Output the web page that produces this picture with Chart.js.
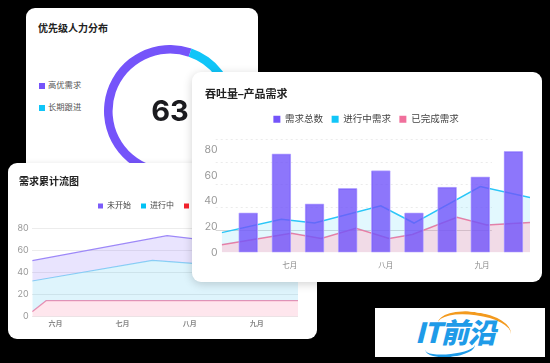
<!DOCTYPE html>
<html>
<head>
<meta charset="utf-8">
<script src="https://cdn.jsdelivr.net/npm/chart.js@4.4.1/dist/chart.umd.min.js"></script>
<style>
  html, body { margin: 0; padding: 0; }
  body {
    width: 550px; height: 363px; overflow: hidden; position: relative;
    background: #000;
    font-family: Inter, "Noto Sans CJK SC", sans-serif;
  }
  .card { position: absolute; background: #fff; border-radius: 9px; overflow: hidden; }
  .card canvas { position: absolute; }
  .title { position: absolute; font-weight: 600; color: #222; white-space: nowrap; }
  #card1 { left: 26px; top: 8px; width: 232px; height: 200px; }
  #card2 { left: 8px; top: 163px; width: 309px; height: 176px; box-shadow: 0 1px 6px rgba(0,0,0,.12); }
  #card3 { left: 192px; top: 72px; width: 350px; height: 210px; box-shadow: 0 2px 10px rgba(0,0,0,.18); }
  .leg { position: absolute; left: 13px; font-size: 8.3px; color: #555; line-height: 10px; white-space: nowrap; }
  .leg i { display: inline-block; width: 6px; height: 6px; margin-right: 3px; vertical-align: -0.5px; }
  #big { position: absolute; left: 104px; width: 80px; top: 86px; text-align: center;
         font: 700 29px/34px Inter, sans-serif; color: #1b1b1f; }
  #logo { position: absolute; left: 375px; top: 308px; width: 170px; height: 49px; background: #fff; overflow: hidden; }
  #logo .txt { position: absolute; left: 40px; top: 7px; font: italic 900 28px/32px "Noto Sans CJK SC", sans-serif;
               color: #1f9be8; letter-spacing: -1px; }
  #logo .arc1 { position: absolute; left: 62px; top: 4px; width: 74px; height: 30px; border-radius: 50%;
                border-top: 3px solid #f39a1e; transform: rotate(8deg); }
  #logo .arc2 { position: absolute; left: 50px; top: 30px; width: 50px; height: 16px; border-radius: 50%;
                border-bottom: 3px solid #1f9be8; transform: rotate(-6deg); }
</style>
</head>
<body>

<div class="card" id="card1">
  <div class="title" style="left:12px; top:14px; font-size:10px; line-height:12px;">优先级人力分布</div>
  <div id="legend1"></div>
  <canvas id="ringChart" width="132" height="132" style="left:78px; top:37px; width:132px; height:132px;"></canvas>
  <div id="big"></div>
</div>

<div class="card" id="card2">
  <div class="title" style="left:11px; top:12px; font-size:10px; line-height:12px;">需求累计流图</div>
  <canvas id="flowChart" width="309" height="144" style="left:0; top:29px; width:309px; height:144px;"></canvas>
</div>

<div class="card" id="card3">
  <div class="title" style="left:13px; top:15px; font-size:11px; line-height:14px;">吞吐量–产品需求</div>
  <canvas id="throughputChart" width="350" height="172" style="left:0; top:34px; width:350px; height:172px;"></canvas>
</div>

<div id="logo"><div class="arc1"></div><div class="arc2"></div><div class="txt">IT前沿</div></div>

<script>
// ── DATA ─────────────────────────────────────────────────
// card 1: priority ring
const priorityLabels = ['高优需求', '长期跟进'];
const priorityValues = [63, 37];

// card 2: cumulative flow
const flowLabels   = ['未开始', '进行中', '已完成'];
const flowMonths   = ['六月', '七月', '八月', '九月'];
const flowMonthAt  = [0.35, 1.36, 2.37, 3.38];
const notStartedX  = [0, 2.03, 2.41, 3.2, 4];
const notStartedY  = [50.7, 73.3, 70.6, 69, 68];
const inProgressX  = [0, 1.81, 2.41, 3.2, 4];
const inProgressY  = [32.3, 51, 48.3, 47, 46];
const finishedX    = [0, 0.21, 4];
const finishedY    = [4.5, 14.5, 14.5];

// card 3: throughput
const demandLabels = ['需求总数', '进行中需求', '已完成需求'];
const months       = ['七月', '八月', '九月'];
const monthAt      = [2.05, 4.95, 7.85];
const weekX        = [0.8, 1.8, 2.8, 3.8, 4.8, 5.8, 6.8, 7.8, 8.8];
const totalDemand  = [31, 77, 38, 50, 64, 31, 51, 59, 79];
const doingX       = [0, 1.8, 2.8, 4.8, 5.8, 7.8, 9.3];
const doingDemand  = [15.5, 26, 23, 36.5, 23, 51.5, 43];
const doneX        = [0, 2.1, 3, 4.05, 5.05, 5.75, 7.1, 8, 9.3];
const doneDemand   = [6, 15, 11, 19, 11, 14, 27.5, 21.5, 23.5];

const toPts = (xs, ys) => xs.map((x, i) => ({ x, y: ys[i] }));

Chart.defaults.font.family = 'Inter, "Noto Sans CJK SC", sans-serif';
Chart.defaults.animation = false;
Chart.defaults.plugins.tooltip.enabled = false;

// ── CARD 1: RING ─────────────────────────────────────────
const ringColors = ['#7554fa', '#10c5f8'];
document.getElementById('legend1').innerHTML = priorityLabels.map((l, i) =>
  `<div class="leg" style="top:${72 + i * 22}px"><i style="background:${ringColors[i]}"></i>${l}</div>`
).join('');
document.getElementById('big').textContent = priorityValues[0];

new Chart(document.getElementById('ringChart'), {
  type: 'doughnut',
  data: {
    labels: priorityLabels,
    datasets: [{ data: priorityValues, backgroundColor: ringColors, borderWidth: 0 }]
  },
  options: {
    responsive: false,
    cutout: '87%',
    rotation: -207.8,
    plugins: { legend: { display: false } }
  }
});

// ── CARD 2: CUMULATIVE FLOW ──────────────────────────────
const flowSolid = ['#7b5cfa', '#00c2f5', '#f5222d'];
new Chart(document.getElementById('flowChart'), {
  type: 'line',
  data: {
    datasets: [
      { label: flowLabels[0], data: toPts(notStartedX, notStartedY), borderColor: '#9d88f8',
        backgroundColor: 'rgba(123,92,250,0.17)', fill: '+1', borderWidth: 1.2, pointRadius: 0 },
      { label: flowLabels[1], data: toPts(inProgressX, inProgressY), borderColor: '#8ad6f5',
        backgroundColor: 'rgba(0,170,235,0.13)', fill: '+1', borderWidth: 1.2, pointRadius: 0 },
      { label: flowLabels[2], data: toPts(finishedX, finishedY), borderColor: '#f591b2',
        backgroundColor: 'rgba(250,100,140,0.16)', fill: 'origin', borderWidth: 1.2, pointRadius: 0 }
    ]
  },
  options: {
    responsive: false,
    layout: { padding: { left: 9, right: 19, top: 0, bottom: 0 } },
    plugins: {
      legend: {
        labels: {
          boxWidth: 5, boxHeight: 5, padding: 10, color: '#444', font: { size: 8 },
          generateLabels: chart => Chart.defaults.plugins.legend.labels.generateLabels(chart)
            .map((l, i) => ({ ...l, fillStyle: flowSolid[i], strokeStyle: flowSolid[i], lineWidth: 0 }))
        }
      }
    },
    scales: {
      x: {
        type: 'linear', min: 0, max: 4,
        grid: { display: false, drawTicks: false }, border: { display: false },
        afterBuildTicks: s => { s.ticks = flowMonthAt.map(v => ({ value: v })); },
        afterFit: s => { s.height = 19.3; },
        ticks: { autoSkip: false, maxRotation: 0, padding: 3, color: '#888',
                 font: { size: 7, weight: 600 }, callback: (v, i) => flowMonths[i] }
      },
      y: {
        min: 0, max: 87.5,
        afterFit: s => { s.width = 15.2; },
        border: { display: false },
        grid: { color: '#ececec', drawTicks: false },
        ticks: { stepSize: 20, includeBounds: false, padding: 3.5, color: '#999', font: { size: 9 } }
      }
    }
  },
  plugins: [{
    id: 'dottedGrid',
    beforeDraw: c => c.ctx.setLineDash([2, 2])
  }]
});

// ── CARD 3: THROUGHPUT ───────────────────────────────────
const demandSolid = ['#7454fa', '#12c6f8', '#f0709c'];
const throughputGrid = {
  id: 'throughputGrid',
  beforeDatasetsDraw(chart) {
    const { ctx, chartArea, scales } = chart;
    const x1 = chartArea.left - 6;
    const x2 = scales.x.getPixelForValue(8.15);
    [17.7, 35.4, 53.1, 70.8, 88.5].forEach((v, i) => {
      const y = Math.round(scales.y.getPixelForValue(v)) + 0.5;
      ctx.save();
      ctx.beginPath();
      ctx.lineWidth = 1;
      ctx.strokeStyle = i === 0 ? 'rgba(0,0,0,0.16)' : '#ebebeb';
      ctx.setLineDash(i === 0 ? [] : [2, 3]);
      ctx.moveTo(x1, y); ctx.lineTo(x2, y);
      ctx.stroke();
      ctx.restore();
    });
  }
};

new Chart(document.getElementById('throughputChart'), {
  type: 'bar',
  data: {
    datasets: [
      { type: 'bar', label: demandLabels[0], data: toPts(weekX, totalDemand), order: 0,
        backgroundColor: 'rgba(112,84,250,0.8)', borderColor: 'rgba(175,158,255,0.9)',
        borderWidth: 1, borderRadius: 1, borderSkipped: false, barThickness: 19 },
      { type: 'line', label: demandLabels[1], data: toPts(doingX, doingDemand), order: 1,
        borderColor: '#2ac6f8', backgroundColor: 'rgba(60,210,250,0.15)', fill: '+1',
        borderWidth: 1.5, pointRadius: 0 },
      { type: 'line', label: demandLabels[2], data: toPts(doneX, doneDemand), order: 2,
        borderColor: '#f07ba3', backgroundColor: 'rgba(200,110,160,0.25)', fill: 'origin',
        borderWidth: 1.5, pointRadius: 0 }
    ]
  },
  options: {
    responsive: false,
    layout: { padding: { left: 10, right: 12, top: 0, bottom: 0 } },
    plugins: {
      legend: {
        labels: {
          boxWidth: 7, boxHeight: 7, padding: 8.5, color: '#444', font: { size: 9.5 },
          generateLabels: chart => Chart.defaults.plugins.legend.labels.generateLabels(chart)
            .map((l, i) => ({ ...l, fillStyle: demandSolid[i], strokeStyle: demandSolid[i], lineWidth: 0 }))
        }
      }
    },
    scales: {
      x: {
        type: 'linear', min: 0, max: 9.3, offset: false,
        grid: { display: false, offset: false, drawTicks: false }, border: { display: false },
        afterBuildTicks: s => { s.ticks = monthAt.map(v => ({ value: v })); },
        afterFit: s => { s.height = 25.5; },
        ticks: { autoSkip: false, maxRotation: 0, padding: 8.75, color: '#888',
                 font: { size: 7.5 }, callback: (v, i) => months[i] }
      },
      y: {
        min: 0, max: 92.5,
        afterFit: s => { s.width = 19.7; },
        border: { display: false },
        grid: { display: false, drawTicks: false },
        ticks: { stepSize: 20, includeBounds: false, padding: 4, color: '#999', font: { size: 10.5 } }
      }
    }
  },
  plugins: [throughputGrid]
});
</script>
</body>
</html>
